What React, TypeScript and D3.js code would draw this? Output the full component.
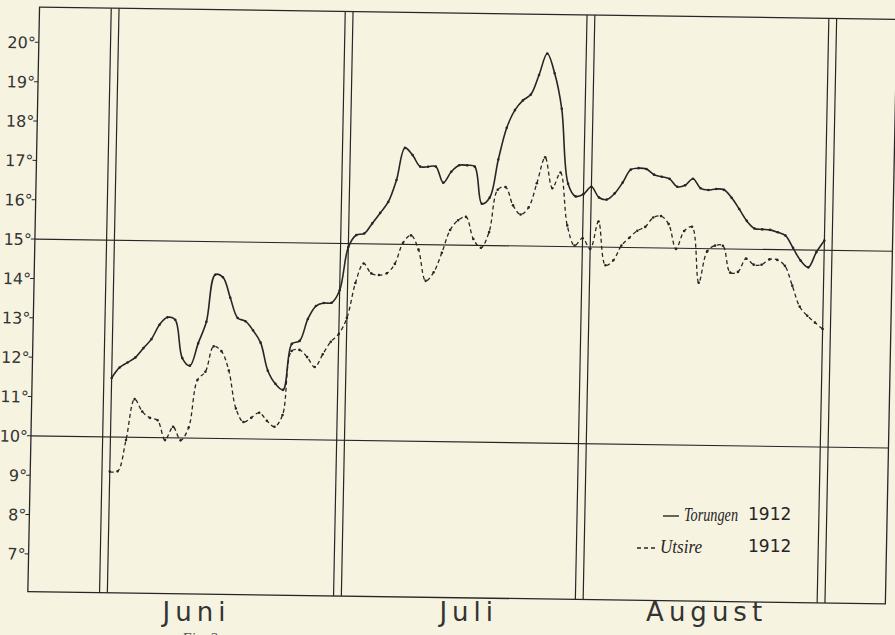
import * as d3 from "d3"
import React from "react"

// sea surface temperature (°C), one value a day from 1 Juni to 31 August 1912
const torungen = [
  11.5, 11.77, 11.9, 12.03, 12.27, 12.5, 12.87, 13.06, 13.0, 12.03,
  11.84, 12.41, 12.96, 14.16, 14.1, 13.58, 13.07, 12.99, 12.76, 12.45,
  11.74, 11.41, 11.26, 12.43, 12.51, 13.07, 13.4, 13.48, 13.49, 13.81,
  14.91, 15.22, 15.26, 15.52, 15.79, 16.07, 16.63, 17.45, 17.27, 16.98,
  16.98, 16.99, 16.58, 16.86, 17.03, 17.03, 17.0, 16.06, 16.22, 17.19,
  18.0, 18.45, 18.7, 18.85, 19.35, 19.9, 19.4, 18.5, 16.6, 16.28,
  16.34, 16.53, 16.26, 16.21, 16.37, 16.65, 16.98, 17.02, 17.0, 16.86,
  16.81, 16.76, 16.56, 16.6, 16.77, 16.53, 16.49, 16.52, 16.5, 16.3,
  16.02, 15.72, 15.53, 15.51, 15.5, 15.44, 15.36, 15.05, 14.73, 14.56,
  14.95, 15.25,
]
const utsire = [
  9.12, 9.13, 9.93, 10.97, 10.66, 10.5, 10.44, 9.94, 10.28, 9.94,
  10.27, 11.48, 11.69, 12.34, 12.22, 11.73, 10.77, 10.43, 10.54, 10.67,
  10.47, 10.32, 10.62, 12.25, 12.28, 12.1, 11.85, 12.18, 12.5, 12.7,
  13.11, 14.0, 14.5, 14.25, 14.21, 14.26, 14.5, 15.04, 15.23, 14.87,
  14.08, 14.3, 14.8, 15.38, 15.63, 15.72, 15.16, 14.94, 15.34, 16.42,
  16.49, 16.03, 15.8, 15.98, 16.6, 17.26, 16.48, 16.88, 15.54, 15.03,
  15.22, 14.95, 15.65, 14.54, 14.67, 15.05, 15.25, 15.43, 15.53, 15.77,
  15.81, 15.61, 14.98, 15.44, 15.55, 14.13, 14.93, 15.08, 15.08, 14.4,
  14.42, 14.76, 14.61, 14.61, 14.75, 14.74, 14.59, 14.09, 13.56, 13.33,
  13.16, 13.0,
]
const degrees = d3.range(7, 21)
const gridDegrees = [10, 15]
const months = ["Juni", "Juli", "August"]
const monthLabelDays = [11.5, 46.4, 76.9]
const monthEdges = [0, 30, 61, 92] // index of 1 Juni, 1 Juli, 1 August, 1 September
const stations = ["Torungen", "Utsire"]
const years = ["1912", "1912"]

const paper = "#f7f3e1"
const ink = "#262626"
const lean = 0.02 // the scanned sheet is a little skewed
const tilt = 0.0142

export default function App() {
  const x = d3.scaleLinear().domain([0, 91]).range([119, 828.8])
  const y = d3.scaleLinear().domain([10, 20]).range([436.7, 43.2])
  const left = 39.5, right = 897, top = 8, bottom = 592.5
  const line = d3.line<number>()
    .x((d, i) => x(i))
    .y(d => y(d))
    .curve(d3.curveCatmullRom.alpha(0.5))
  const page = (u: number, v: number) => [u - lean * (v - 10), v + tilt * (u - 100)]
  const series = [
    { name: "Torungen", values: torungen, dash: null, width: 1.6 },
    { name: "Utsire", values: utsire, dash: "4 3", width: 1.3 },
  ]

  return (
    <svg width={895} height={635} style={{ position: "fixed", left: 0, top: 0, background: paper }}>
      <rect width={895} height={635} fill={paper} />
      <g transform={`matrix(1, ${tilt}, ${-lean}, 1, ${lean * 10}, ${-tilt * 100})`}>
        <rect x={left} y={top} width={right - left} height={bottom - top}
          fill="none" stroke={ink} strokeWidth={1.3} />
        {gridDegrees.map(d => (
          <line key={d} x1={left} x2={right} y1={y(d)} y2={y(d)} stroke={ink} strokeWidth={1.1} />
        ))}
        {monthEdges.map(m => (
          <g key={m}>
            <line x1={x(m - 1)} x2={x(m - 1)} y1={top} y2={bottom} stroke={ink} strokeWidth={1.2} />
            <line x1={x(m)} x2={x(m)} y1={top} y2={bottom} stroke={ink} strokeWidth={1.2} />
          </g>
        ))}
        {degrees.map(d => (
          <g key={d}>
            <line x1={left - 4} x2={left} y1={y(d)} y2={y(d)} stroke={ink} strokeWidth={1} />
            <text x={left - 3} y={y(d) + 6} textAnchor="end" fontFamily="DejaVu Sans"
              fontSize={16} fill="#333">{d}°</text>
          </g>
        ))}
        {series.map(s => (
          <g key={s.name}>
            <path d={line(s.values) || ""} fill="none" stroke={ink} strokeWidth={s.width}
              strokeDasharray={s.dash || undefined} />
            {s.values.map((v, i) => (
              <circle key={i} cx={x(i)} cy={y(v)} r={1.3} fill={ink} />
            ))}
          </g>
        ))}
      </g>
      {months.map((m, k) => {
        const [px] = page(x(monthLabelDays[k]), 620)
        return (
          <text key={m} x={px} y={621} textAnchor="middle" fontFamily="DejaVu Sans"
            fontSize={26} letterSpacing={5} fill="#333">{m}</text>
        )
      })}
      <text x={182} y={643} fontFamily="Liberation Serif" fontStyle="italic" fontSize={15}
        fill="#555">Fig. 3.</text>
      {stations.map((s, k) => {
        const ly = 516 + k * 32
        return (
          <g key={s}>
            {k === 0
              ? <line x1={663} x2={679} y1={ly} y2={ly} stroke={ink} strokeWidth={1.4} />
              : <line x1={637} x2={657} y1={ly} y2={ly} stroke={ink} strokeWidth={1.3} strokeDasharray="4 3" />}
            <text x={k === 0 ? 684 : 660} y={ly + 5} fontFamily="Liberation Serif" fontStyle="italic"
              fontSize={18} textLength={k === 0 ? 54 : 42} lengthAdjust="spacingAndGlyphs" fill={ink}>{s}</text>
            <text x={748} y={ly + 4} fontFamily="DejaVu Sans" fontSize={17} fill={ink}>{years[k]}</text>
          </g>
        )
      })}
    </svg>
  )
}
